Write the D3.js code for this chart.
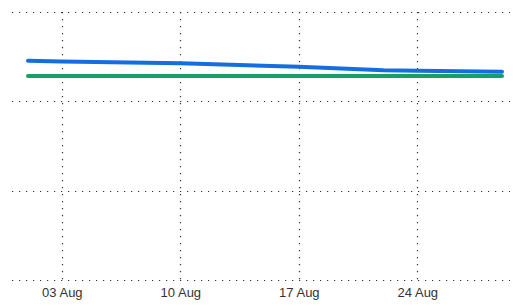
<!DOCTYPE html>
<html>
<head>
<meta charset="utf-8">
<script src="https://cdnjs.cloudflare.com/ajax/libs/d3/7.8.5/d3.min.js"></script>
<style>
  body { margin: 0; background: #fff; }
  .grid line { stroke: #333; stroke-width: 1.2; stroke-dasharray: 1.2,5.8; }
  .line { fill: none; stroke-width: 4; stroke-linecap: round; stroke-linejoin: round; }
  .xAxis text { font-family: "Liberation Sans", Arial, sans-serif; font-size: 13px; fill: #333; }
</style>
</head>
<body>
<div id="chart"></div>
<script>
// data
var dates = ["2020-08-01", "2020-08-03", "2020-08-10", "2020-08-17", "2020-08-22", "2020-08-24", "2020-08-29"];
var blueValues = [24.54, 24.46, 24.26, 23.88, 23.47, 23.42, 23.32];
var greenValues = [22.84, 22.84, 22.84, 22.84, 22.84, 22.84, 22.84];
var tickDates = ["2020-08-03", "2020-08-10", "2020-08-17", "2020-08-24"];
var yTicks = [0, 10, 20, 30];

var parseDate = d3.timeParse("%Y-%m-%d");

var width = 520, height = 306;
var gridLeft = 12, gridRight = 510;

// set the ranges
var x = d3.scaleTime()
    .domain([parseDate("2020-08-01"), parseDate("2020-08-29")])
    .range([28, 502]);
var y = d3.scaleLinear().domain([0, 30]).range([280, 12]);

var data = dates.map(function(d, i) {
    return {date: parseDate(d), blue: blueValues[i], green: greenValues[i]};
});

var svg = d3.select("#chart").append("svg")
    .attr("width", width)
    .attr("height", height);

// horizontal grid
svg.append("g")
    .attr("class", "grid")
    .selectAll("line")
    .data(yTicks)
    .enter().append("line")
    .attr("x1", gridLeft)
    .attr("x2", gridRight)
    .attr("y1", function(d) { return Math.round(y(d)) + 0.5; })
    .attr("y2", function(d) { return Math.round(y(d)) + 0.5; });

// vertical grid
svg.append("g")
    .attr("class", "grid")
    .selectAll("line")
    .data(tickDates.map(parseDate))
    .enter().append("line")
    .attr("x1", function(d) { return Math.round(x(d)) + 0.5; })
    .attr("x2", function(d) { return Math.round(x(d)) + 0.5; })
    .attr("y1", y(30))
    .attr("y2", y(0));

// lines
var greenLine = d3.line()
    .x(function(d) { return x(d.date); })
    .y(function(d) { return y(d.green); });
var blueLine = d3.line()
    .x(function(d) { return x(d.date); })
    .y(function(d) { return y(d.blue); });

svg.append("path")
    .datum(data)
    .attr("class", "line")
    .style("stroke", "#16a068")
    .attr("d", greenLine);

svg.append("path")
    .datum(data)
    .attr("class", "line")
    .style("stroke", "#146ee0")
    .attr("d", blueLine);

// x axis labels
var xAxis = svg.append("g")
    .attr("class", "xAxis")
    .attr("transform", "translate(0,280)")
    .call(d3.axisBottom(x)
        .tickValues(tickDates.map(parseDate))
        .tickFormat(d3.timeFormat("%d %b"))
        .tickSize(0)
        .tickPadding(8));
xAxis.select(".domain").remove();
xAxis.selectAll("text").attr("dy", "0.71em");
</script>
</body>
</html>
